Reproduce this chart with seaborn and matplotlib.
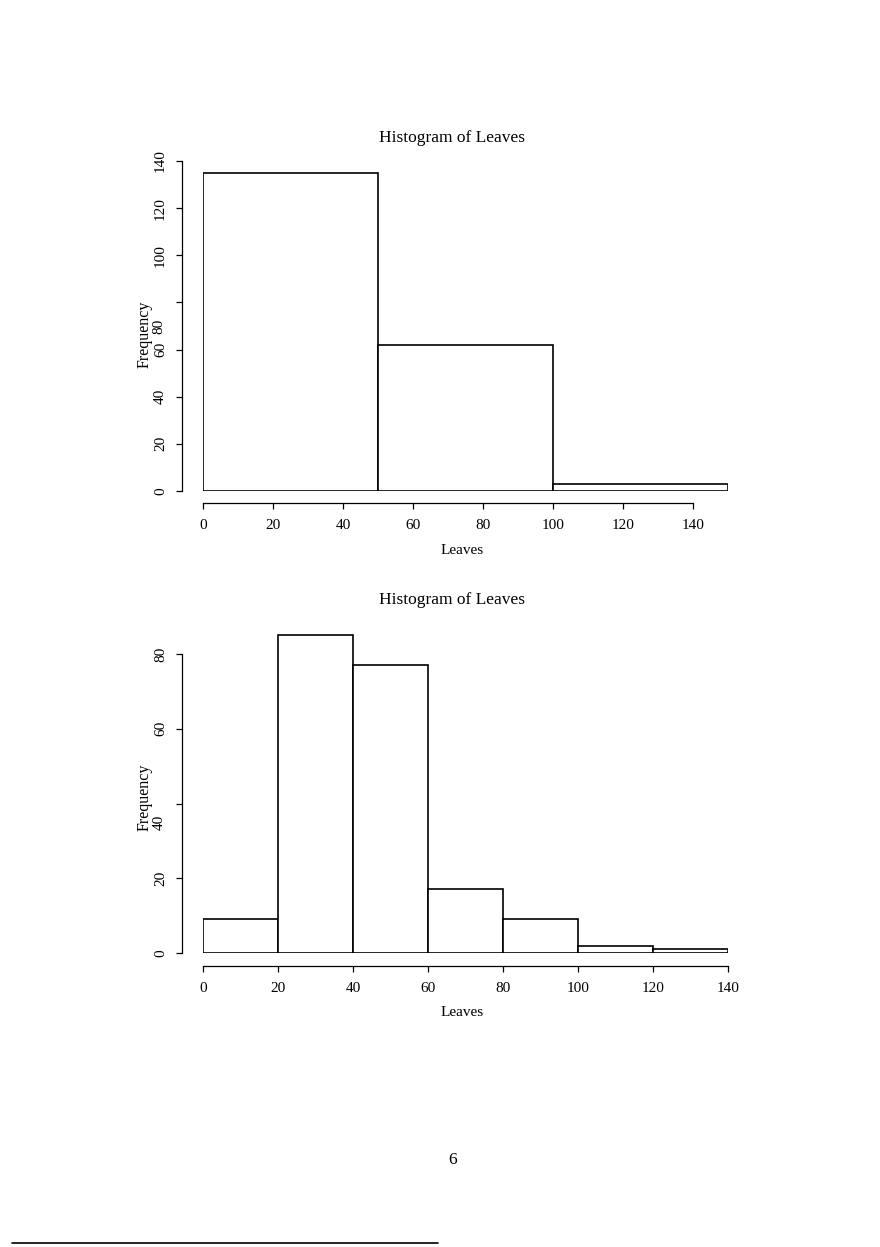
import matplotlib
matplotlib.use("Agg")
import matplotlib.pyplot as plt
from matplotlib.lines import Line2D
from matplotlib.transforms import blended_transform_factory
import seaborn as sns

# counts
edges_top = [0, 50, 100, 150]
counts_top = [135, 62, 3]
edges_bot = [0, 20, 40, 60, 80, 100, 120, 140]
counts_bot = [9, 85, 77, 17, 9, 2, 1]

yticks_top = [0, 20, 40, 60, 80, 100, 120, 140]
yticks_bot = [0, 20, 40, 60, 80]
xticks = [0, 20, 40, 60, 80, 100, 120, 140]

W, H = 880, 1247
FS = 11

sns.set_style("white")
plt.rcParams['font.family'] = ['Liberation Serif', 'DejaVu Serif']
plt.rcParams['font.size'] = FS
plt.rcParams['text.color'] = 'black'
plt.rcParams['xtick.color'] = 'black'
plt.rcParams['ytick.color'] = 'black'
plt.rcParams['axes.labelcolor'] = 'black'

fig = plt.figure(figsize=(W / 100, H / 100), dpi=100)


def px_axes(l, t, r, b):
    return fig.add_axes([l / W, 1 - b / H, (r - l) / W, (b - t) / H])


def ftext(x, y, s, **kw):
    fig.text(x / W, 1 - y / H, s, ha='center', va='center', **kw)


def r_hist(ax, edges, counts, xlim, ylim, yticks, ybound, shifted, x_out, title_y, xlab_y, ylab_y):
    mids = [(a + b) / 2 for a, b in zip(edges[:-1], edges[1:])]
    sns.histplot(x=mids, weights=counts, bins=edges, ax=ax, color='white',
                 edgecolor='black', linewidth=1.2, alpha=1)
    ax.set_xlim(*xlim)
    ax.set_ylim(*ylim)
    ax.set_xlabel('')
    ax.set_ylabel('')
    for s in ['top', 'right']:
        ax.spines[s].set_visible(False)
    ax.spines['left'].set_position(('outward', 21 * 0.72))
    ax.spines['bottom'].set_position(('outward', x_out * 0.72))
    ax.spines['left'].set_bounds(0, ybound)
    ax.spines['bottom'].set_bounds(0, 140)
    for s in ['left', 'bottom']:
        ax.spines[s].set_color('black')
        ax.spines[s].set_linewidth(0.9)
    ax.set_xticks(xticks)
    ax.set_xticklabels([str(v) for v in xticks])
    ax.set_yticks(yticks)
    ax.set_yticklabels(['' if v == shifted[0] else str(v) for v in yticks],
                       rotation=90, va='center')
    ax.tick_params(axis='both', direction='out', length=4.3, width=0.9,
                   color='black', labelcolor='black', labelsize=FS,
                   left=True, bottom=True)
    ax.tick_params(axis='y', pad=6.5)
    ax.tick_params(axis='x', pad=7.5)
    # R put this one tick label lower than its tick
    tr = blended_transform_factory(fig.transFigure, ax.transData)
    ax.text(159 / W, shifted[1], str(shifted[0]), transform=tr, rotation=90,
            ha='center', va='center', fontsize=FS)
    ftext(452, title_y, 'Histogram of Leaves', fontsize=12.5)
    ftext(462, xlab_y, 'Leaves', fontsize=FS)
    ftext(145, ylab_y, 'Frequency', fontsize=11.5, rotation=90)


ax1 = px_axes(203, 161, 728, 491)
r_hist(ax1, edges_top, counts_top, (0, 150), (0, 140), yticks_top, 140,
       (80, 70), 12, 138, 550, 334)

ax2 = px_axes(203, 953 - 86 * 3.7375, 728, 953)
r_hist(ax2, edges_bot, counts_bot, (0, 140), (0, 86), yticks_bot, 80,
       (40, 35), 13, 600, 1012, 797)

ftext(453, 1160, '6', fontsize=12.5)
fig.add_artist(Line2D([12 / W, 438 / W], [1 - 1243 / H] * 2, color='black',
                      linewidth=1.2, transform=fig.transFigure))

fig.savefig("out.png", dpi=100, facecolor='white')
